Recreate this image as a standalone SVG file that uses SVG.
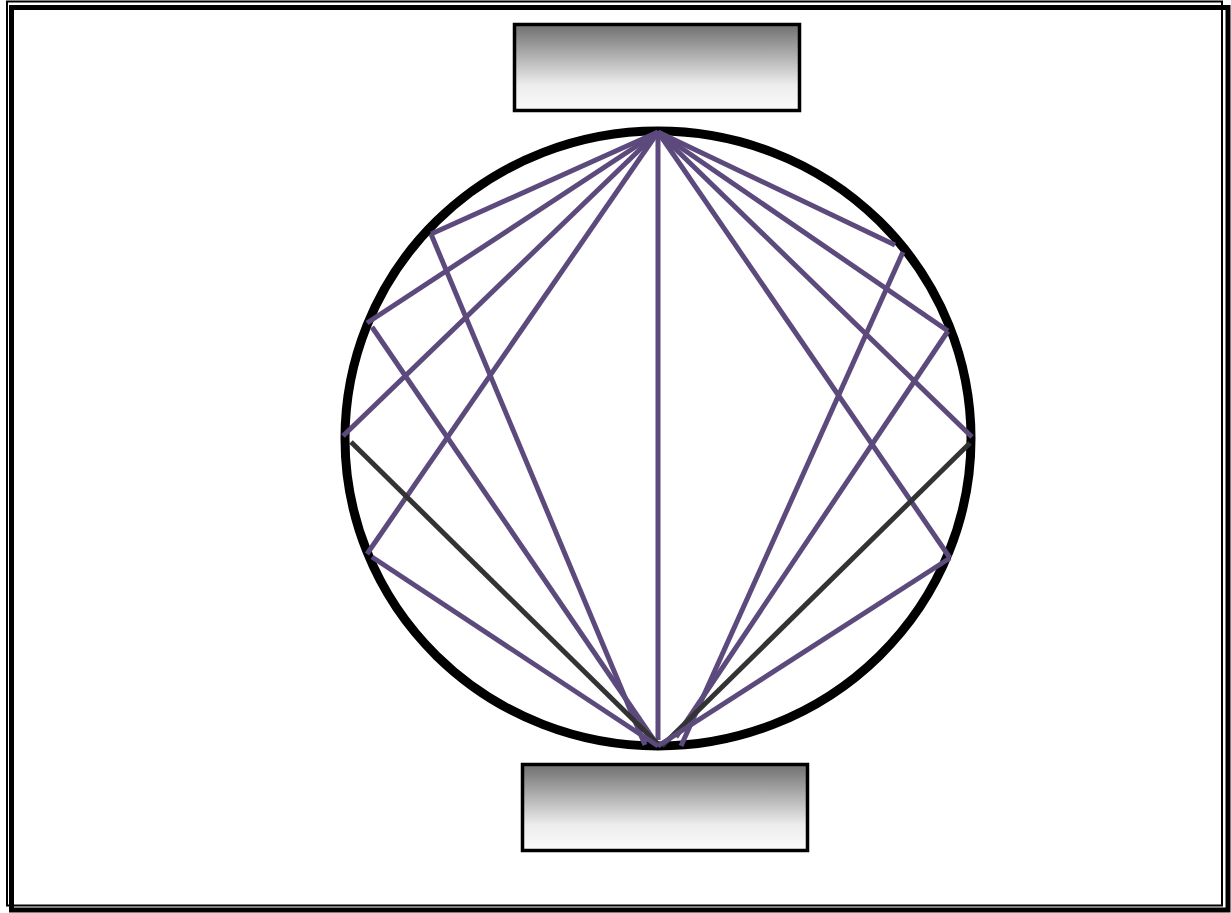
<svg xmlns="http://www.w3.org/2000/svg" width="1231" height="913" viewBox="0 0 1231 913">
<style>
.p{stroke:#5c4a7d;stroke-width:5;fill:none;stroke-linecap:butt}
.d{stroke:#333333;stroke-width:5;fill:none}
.box{stroke:#000;stroke-width:3.5;fill:url(#g)}
</style>
<defs>
<linearGradient id="g" x1="0" y1="0" x2="0" y2="1">
<stop offset="0.05" stop-color="#787878"/>
<stop offset="0.7" stop-color="#ececec"/>
<stop offset="1" stop-color="#fbfbfb"/>
</linearGradient>
</defs>
<rect x="0" y="0" width="1231" height="913" fill="#fff"/>
<g id="frame">
<rect x="7" y="1.5" width="1215" height="904" fill="none" stroke="#000" stroke-width="2"/>
<rect x="11.5" y="7.5" width="1216.5" height="902.5" fill="none" stroke="#000" stroke-width="5"/>
</g>
<g id="ring">
<ellipse cx="658" cy="438.5" rx="313" ry="307.5" fill="none" stroke="#000" stroke-width="9"/>
</g>
<g id="top">
<rect class="box" x="514.5" y="24.5" width="285" height="86"/>
</g>
<g id="bottom">
<rect class="box" x="522.5" y="764.5" width="285" height="86"/>
</g>
<g id="connectors">
<line class="p" x1="658" y1="132" x2="431" y2="234"/>
<line class="p" x1="658" y1="132" x2="367" y2="323"/>
<line class="p" x1="658" y1="132" x2="343" y2="436"/>
<line class="p" x1="658" y1="132" x2="367" y2="554"/>
<line class="p" x1="658" y1="132" x2="658" y2="740"/>
<line class="p" x1="658" y1="132" x2="895" y2="245"/>
<line class="p" x1="658" y1="132" x2="948" y2="331"/>
<line class="p" x1="658" y1="132" x2="972" y2="437"/>
<line class="p" x1="658" y1="132" x2="950" y2="558"/>
<line class="p" x1="431" y1="234" x2="645" y2="745"/>
<line class="p" x1="372" y1="327" x2="658" y2="746"/>
<line class="d" x1="351" y1="442" x2="660" y2="746"/>
<line class="p" x1="372" y1="557" x2="658" y2="746"/>
<line class="p" x1="903" y1="252" x2="681" y2="746"/>
<line class="p" x1="948" y1="331" x2="676" y2="737"/>
<line class="d" x1="970" y1="443" x2="662" y2="746"/>
<line class="p" x1="950" y1="558" x2="658" y2="746"/>
</g>
</svg>
